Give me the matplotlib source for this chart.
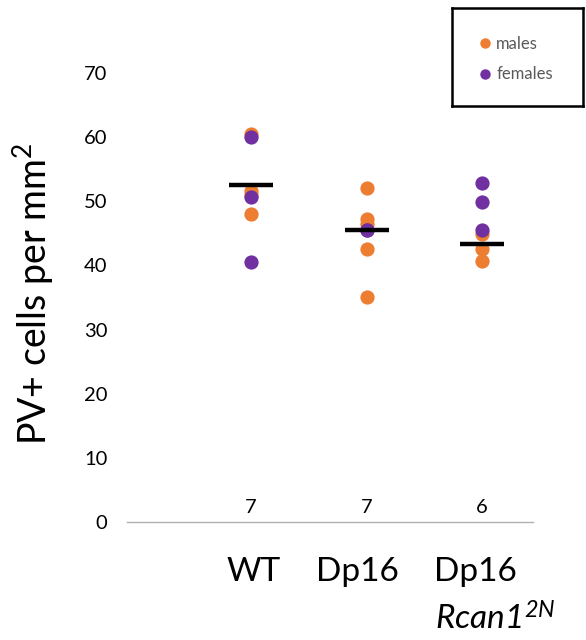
import matplotlib
matplotlib.use("Agg")
import matplotlib.pyplot as plt
from matplotlib.lines import Line2D
from matplotlib.transforms import blended_transform_factory

plt.rcParams['font.family'] = ['Lato', 'DejaVu Sans']
plt.rcParams['mathtext.fontset'] = 'custom'
plt.rcParams['mathtext.rm'] = 'Lato'
plt.rcParams['mathtext.it'] = 'Lato:italic'
plt.rcParams['mathtext.sf'] = 'Lato:italic'

categories = ["WT", "Dp16", "Dp16"]
sublabels = ["", "", r"$\mathsf{Rcan1}^{\mathsf{2N}}$"]
counts = ["7", "7", "6"]
means = [52.5, 45.5, 43.4]

male_group = [0, 0, 0, 0, 1, 1, 1, 1, 1, 2, 2, 2]
male_values = [60.5, 51.6, 51.0, 48.0, 52.0, 47.3, 46.5, 42.6, 35.1, 44.9, 42.6, 40.7]
female_group = [0, 0, 0, 1, 1, 2, 2, 2]
female_values = [60.0, 50.7, 40.5, 45.6, 45.5, 52.9, 49.9, 45.5]

orange = "#ED7D31"
purple = "#7030A0"

fig = plt.figure(figsize=(5.86, 6.4), dpi=100)
ax = fig.add_axes([127/586, 1-522/640, (533-127)/586, (522-73)/640])

ax.scatter(male_group, male_values, s=105, color=orange, zorder=3, linewidths=0)
ax.scatter(female_group, female_values, s=105, color=purple, zorder=4, linewidths=0)
for i, m in enumerate(means):
    ax.plot([i-0.19, i+0.19], [m, m], color="black", lw=3.2, zorder=5, solid_capstyle='butt')

ax.set_xlim(-1.074, 2.44)
ax.set_ylim(0, 70)
ax.set_yticks(range(0, 71, 10))
ax.tick_params(axis='y', length=0, labelsize=14.5, pad=14)
ax.tick_params(axis='x', length=0)
ax.set_xticks([])
for s in ['top', 'right', 'left']:
    ax.spines[s].set_visible(False)
ax.spines['bottom'].set_color('#b0b0b0')
ax.spines['bottom'].set_linewidth(1.0)

for i, c in enumerate(counts):
    ax.text(i, 2.2, c, ha='center', va='center', fontsize=14.5)

tr = blended_transform_factory(ax.transData, fig.transFigure)
label_shift = [0.02, -0.08, -0.06]
for i, (cat, sub) in enumerate(zip(categories, sublabels)):
    ax.text(i + label_shift[i], 1-572/640, cat, transform=tr, ha='center', va='center', fontsize=24)
    if sub:
        ax.text(i + 0.11, 1-619/640, sub, transform=tr, ha='center', va='center', fontsize=24)

fig.text(33/586, 1-294/640, r"PV+ cells per mm$^2$", rotation=90,
         ha='center', va='center', fontsize=27)

# legend box
lax = fig.add_axes([452/586, 1-106/640, 131/586, 98/640])
lax.set_xticks([]); lax.set_yticks([])
for s in lax.spines.values():
    s.set_color('black'); s.set_linewidth(1.8)
handles = [Line2D([], [], marker='o', ls='', color=orange, markersize=6.5, label='males'),
           Line2D([], [], marker='o', ls='', color=purple, markersize=6.5, label='females')]
leg = lax.legend(handles=handles, loc='upper left', bbox_to_anchor=(0.14, 0.78),
                 frameon=False, fontsize=12, handletextpad=0.15, labelspacing=0.85,
                 borderaxespad=0, handlelength=1.0, labelcolor='#595959')

fig.savefig("out.png", dpi=100)
